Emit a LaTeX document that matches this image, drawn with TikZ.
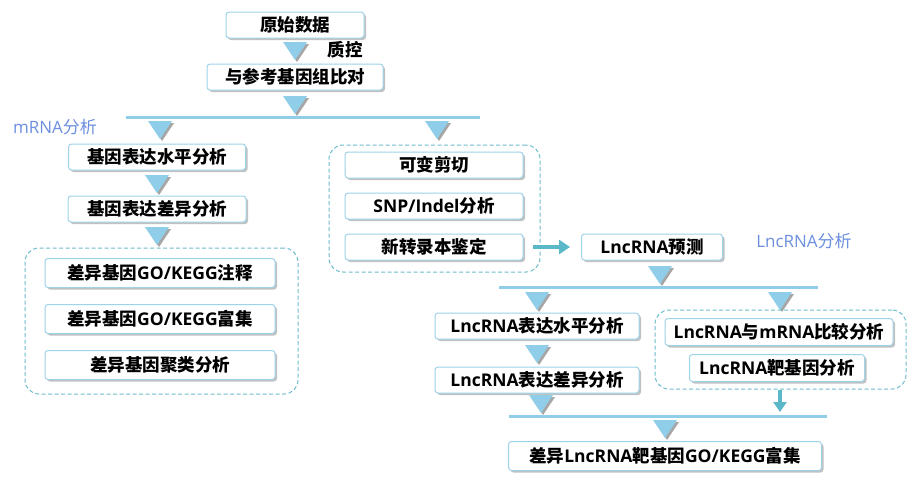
\documentclass[tikz,border=0pt]{standalone}
\usepackage{fontspec}
\setmainfont{Noto Sans CJK SC}
\newfontfamily\latf{Open Sans}
\newcommand\la[1]{{\latf #1}}
\usetikzlibrary{shadows,arrows.meta,fit}
\definecolor{boxc}{HTML}{9ED3EA}
\definecolor{tric}{HTML}{8FCDE8}
\definecolor{dashc}{HTML}{6DBDCC}
\definecolor{arrc}{HTML}{5BB8C8}
\definecolor{labc}{HTML}{6C8FE0}
\newcommand\dtri[2]{%
  \fill[black!35] (#1-10,#2+2) -- (#1+14,#2+2) -- (#1+2,#2+20) -- cycle;
  \fill[tric] (#1-12,#2) -- (#1+12,#2) -- (#1,#2+18) -- cycle;}
\begin{document}
\begin{tikzpicture}[x=1pt,y=-1pt,
 box/.style={draw=boxc,line width=1pt,fill=white,rounded corners=3pt,minimum height=26pt,inner sep=0pt,
   font=\bfseries\fontsize{17.5}{17.5}\selectfont,
   drop shadow={shadow xshift=2pt,shadow yshift=-2pt,fill=black!40,opacity=0.6}},
 grp/.style={draw=dashc,dash pattern=on 4pt off 2.5pt,line width=1pt,rounded corners=14pt,inner sep=0pt},
 bar/.style={draw=tric,line width=3pt},
 arr/.style={draw=arrc,line width=3.5pt,-{Triangle[length=11pt,width=14pt]}},
 arrs/.style={draw=arrc,line width=3.5pt,-{Triangle[length=10pt,width=13pt]}},
 lab/.style={text=labc,font=\fontsize{17}{17}\selectfont},
 plain/.style={font=\bfseries\fontsize{17.5}{17.5}\selectfont}]
\useasboundingbox[fill=white] (0,0) rectangle (921,482);

% top
\node[box,minimum width=138pt] (raw) at (295,25) {原始数据};
\dtri{295}{42}
\node[plain] (qc) at (345,50) {质控};
\node[box,minimum width=176pt] (align) at (295,77) {与参考基因组比对};
\dtri{295}{96}
\draw[bar] (126,117) -- (480,117);
\node[lab] (mlab) at (55,127) {\la{mRNA}分析};
\dtri{160}{121}
\dtri{437}{121}

% mRNA column
\node[box,minimum width=177pt] (m1) at (157,157) {基因表达水平分析};
\dtri{157}{175}
\node[box,minimum width=178pt] (m2) at (157,209) {基因表达差异分析};
\dtri{157}{227}
\node[grp,fit={(25,248)(298,394)}] (g1) {};
\node[box,minimum width=230pt,minimum height=29pt] (m3) at (160,273) {差异基因\la{GO/KEGG}注释};
\node[box,minimum width=230pt,minimum height=29pt] (m4) at (160,319) {差异基因\la{GO/KEGG}富集};
\node[box,minimum width=230pt,minimum height=29pt] (m5) at (160,365) {差异基因聚类分析};

% middle group
\node[grp,fit={(329,145)(540,272)}] (g2) {};
\node[box,minimum width=178pt] (s1) at (434,165) {可变剪切};
\node[box,minimum width=178pt] (s2) at (434,206) {\la{SNP/Indel}分析};
\node[box,minimum width=178pt] (s3) at (434,247) {新转录本鉴定};
\node[box,minimum width=141pt] (lp) at (652,247) {\la{LncRNA}预测};
\draw[arr,shorten <=9pt,shorten >=11pt] (s3.east) -- (lp.west);
\node[lab] (llab) at (804,241) {\la{LncRNA}分析};
\dtri{660}{266}
\draw[bar] (499,287) -- (818,287);
\dtri{537}{292}
\dtri{780}{292}

% lncRNA left column
\node[box,minimum width=204pt] (l1) at (537,326) {\la{LncRNA}表达水平分析};
\dtri{537}{345}
\node[box,minimum width=204pt] (l2) at (537,380) {\la{LncRNA}表达差异分析};
\dtri{541}{395}

% right group
\node[grp,fit={(655,310)(906,389)}] (g3) {};
\node[box,minimum width=228pt,minimum height=27pt] (r1) at (779,332) {\la{LncRNA}与\la{mRNA}比较分析};
\node[box,minimum width=175pt,minimum height=27pt] (r2) at (777,368) {\la{LncRNA}靶基因分析};
\coordinate (barhit) at (780,412);
\draw[arrs] (g3.south -| barhit) -- (barhit);

\draw[bar] (509,416) -- (827,416);
\dtri{665}{420}
\node[box,minimum width=313pt,minimum height=29pt] (fin) at (665,456) {差异\la{LncRNA}靶基因\la{GO/KEGG}富集};
\end{tikzpicture}
\end{document}
